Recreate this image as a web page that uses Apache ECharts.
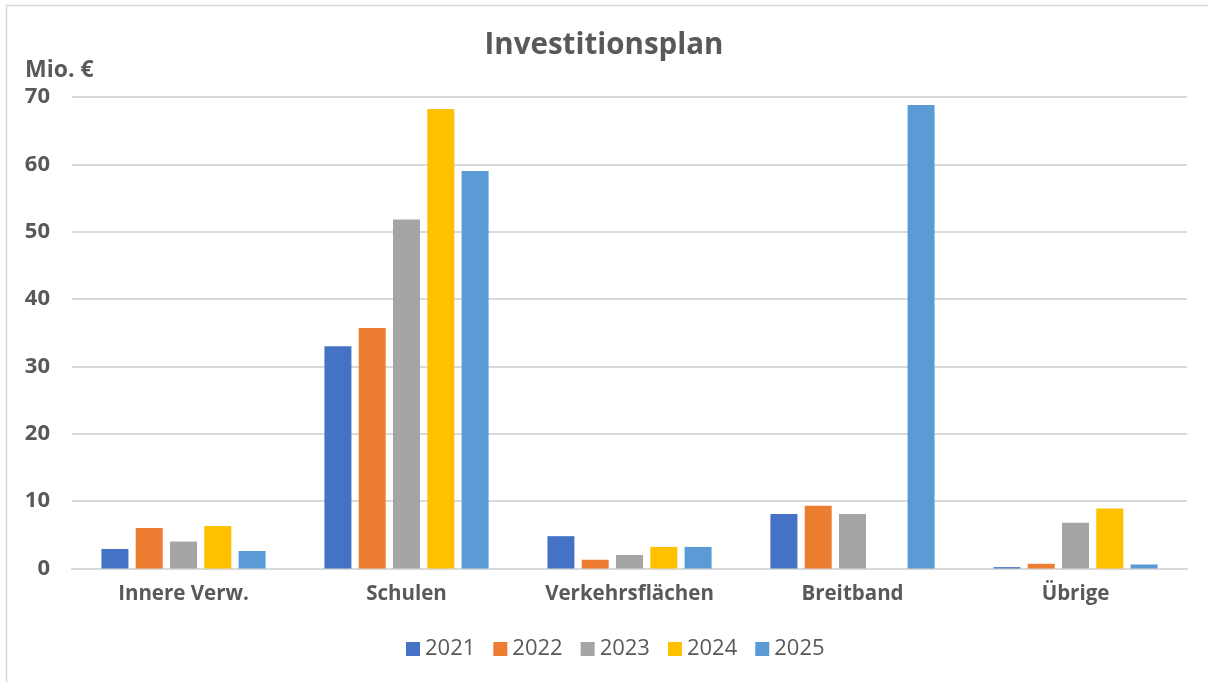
<!DOCTYPE html>
<html>
<head>
<meta charset="utf-8">
<script src="https://cdn.jsdelivr.net/npm/echarts@6/dist/echarts.min.js"></script>
<style>
html,body{margin:0;padding:0;background:#fff;}
#chart{width:1208px;height:682px;}
</style>
</head>
<body>
<div id="chart"></div>
<script>
const categories = ['Innere Verw.', 'Schulen', 'Verkehrsflächen', 'Breitband', 'Übrige'];
const years = ['2021', '2022', '2023', '2024', '2025'];
const v2021 = [2.9, 33.0, 4.8, 8.1, 0.2];
const v2022 = [6.0, 35.7, 1.3, 9.3, 0.7];
const v2023 = [4.0, 51.8, 2.0, 8.1, 6.8];
const v2024 = [6.3, 68.2, 3.2, 0, 8.9];
const v2025 = [2.6, 59.0, 3.2, 68.8, 0.6];
const yTicks = [0, 10, 20, 30, 40, 50, 60, 70];
const colors = ['#4472C4', '#ED7D31', '#A5A5A5', '#FFC000', '#5B9BD5'];
const seriesValues = [v2021, v2022, v2023, v2024, v2025];
const textColor = '#595959';
const font = '"Open Sans", "Noto Sans", sans-serif';

const chart = echarts.init(document.getElementById('chart'));
chart.setOption({
  animation: false,
  color: colors,
  textStyle: { fontFamily: font },
  title: {
    text: 'Investitionsplan',
    left: 'center',
    top: 26,
    textStyle: { color: textColor, fontSize: 29.5, fontWeight: 'bold', fontFamily: font }
  },
  legend: {
    data: years,
    bottom: 17,
    left: 401,
    icon: 'rect',
    itemWidth: 14,
    itemHeight: 14,
    itemGap: 18,
    textStyle: { color: textColor, fontSize: 22, fontFamily: font }
  },
  grid: { left: 72, right: 21, top: 97, bottom: 113.5, containLabel: false },
  xAxis: {
    type: 'category',
    data: categories,
    axisLine: { lineStyle: { color: '#D9D9D9', width: 2 } },
    axisTick: { show: false },
    axisLabel: { color: textColor, fontSize: 20.5, fontWeight: 'bold', margin: 15, fontFamily: font }
  },
  yAxis: {
    type: 'value',
    min: yTicks[0],
    max: yTicks[yTicks.length - 1],
    interval: 10,
    axisLine: { show: false },
    axisTick: { show: false },
    splitLine: { lineStyle: { color: '#D9D9D9', width: 2 } },
    axisLabel: { color: textColor, fontSize: 22, fontWeight: 'bold', margin: 22, fontFamily: font }
  },
  series: years.map((y, i) => ({
    name: y,
    type: 'bar',
    data: seriesValues[i],
    barWidth: 27,
    barGap: '27%',
    itemStyle: { color: colors[i] }
  })),
  graphic: [
    { type: 'text', left: 25, top: 59, style: { text: 'Mio. €', fill: textColor, font: 'bold 23px ' + font } },
    { type: 'line', shape: { x1: 6.5, y1: 5.5, x2: 1208, y2: 5.5 }, style: { stroke: '#D9D9D9', lineWidth: 1.5 } },
    { type: 'line', shape: { x1: 6.5, y1: 5.5, x2: 6.5, y2: 682 }, style: { stroke: '#D9D9D9', lineWidth: 1.5 } }
  ]
});
</script>
</body>
</html>
